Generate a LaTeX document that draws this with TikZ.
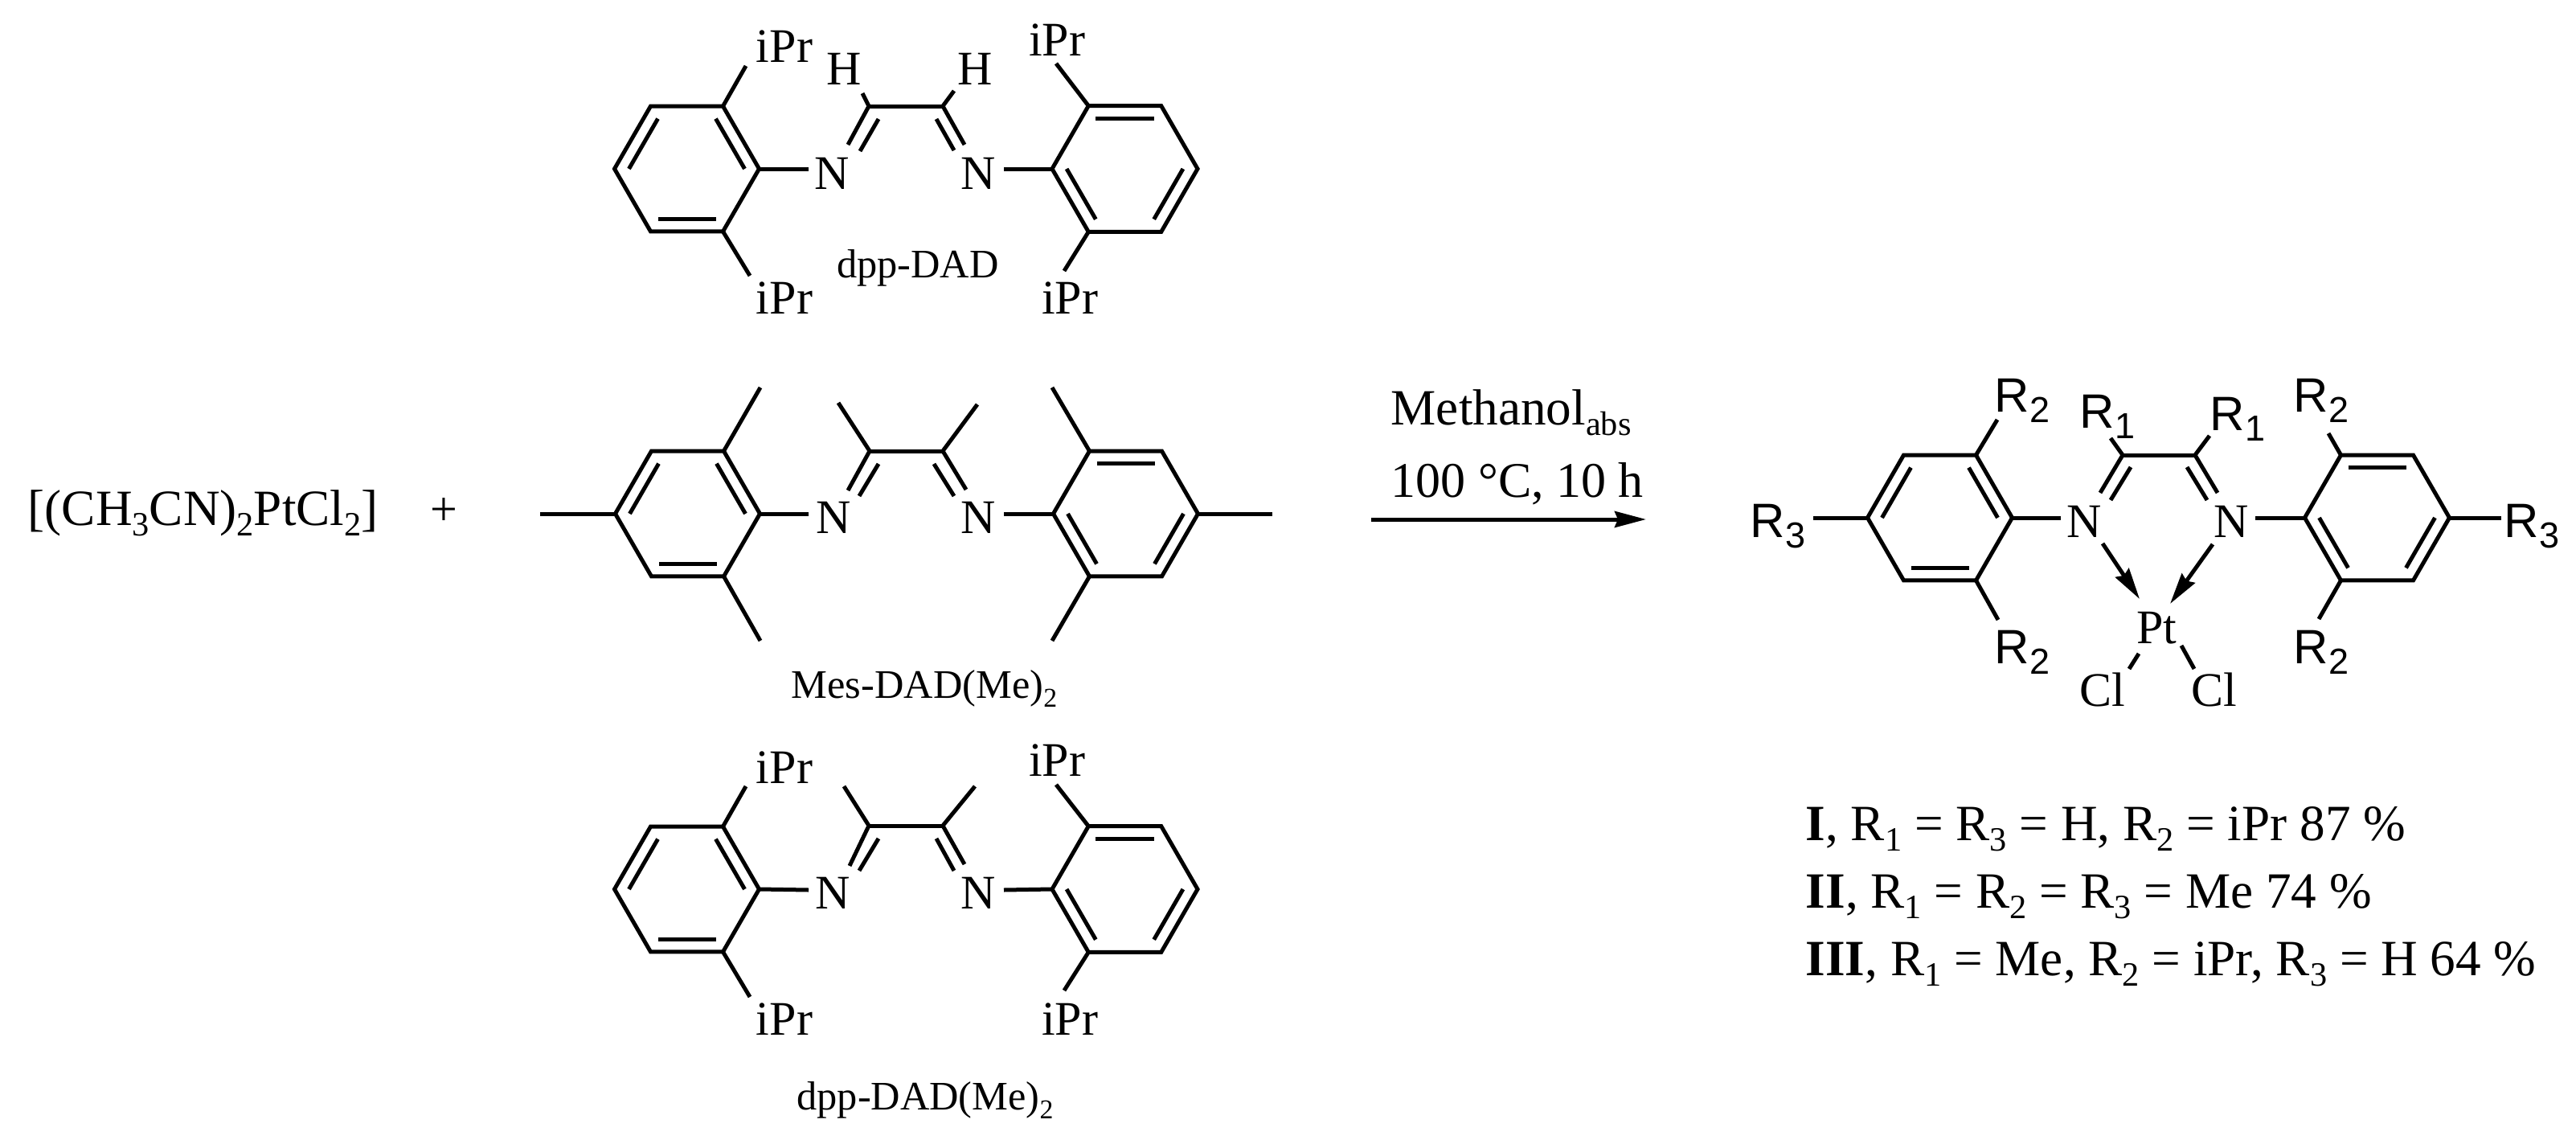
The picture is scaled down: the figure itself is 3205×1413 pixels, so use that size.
\documentclass[tikz,border=0pt]{standalone}
\usepackage{fontspec}
\setmainfont{Liberation Serif}
\newfontfamily\sansfont{Liberation Sans}
\usetikzlibrary{arrows.meta,calc,positioning}
\newcommand{\sbs}[1]{\raisebox{-0.22em}{\scalebox{0.67}{#1}}}
\newcommand{\rsb}[1]{\raisebox{-0.22em}{\scalebox{0.75}{#1}}}
\newcommand{\arene}[5]{
    \foreach \v/\ang in {a/0,b/60,c/120,d/180,e/240,f/300}{
        \coordinate (#1\v) at ($(#2,#3)+(\ang:#4)$);
        \coordinate (#1\v i) at ($(#2,#3)+(\ang:0.8*#4)$);
    }
    \draw[bond] (#1a) -- (#1b) -- (#1c) -- (#1d) -- (#1e) -- (#1f) -- cycle;
    \foreach \p/\q in {#5} \draw[bond] (#1\p i) -- (#1\q i);
}
\tikzset{
    bond/.style={line width=1.25pt, line join=miter},
    tipped/.style={line width=1.25pt, -{Stealth[length=9.75pt, width=5pt, inset=1pt]}},
    atom/.style={font=\fontsize{15}{18}\selectfont, inner sep=0pt, anchor=base},
    rlabel/.style={font=\sansfont\fontsize{15}{18}\selectfont, inner sep=0pt, anchor=base west},
    caption/.style={font=\fontsize{12.6}{15}\selectfont, inner sep=0pt, anchor=base},
    textline/.style={font=\fontsize{15.8}{18}\selectfont, inner sep=0pt, anchor=base west},
}
\begin{document}
\begin{tikzpicture}[x=0.25pt, y=-0.25pt]
    \useasboundingbox (0,0) rectangle (3205,1413);
    % dpp-DAD
    \arene{al}{854.5}{210}{90}{d/e,f/a,b/c}
    \arene{ar}{1399.5}{210}{90.5}{e/f,a/b,c/d}
    \foreach \n/\x/\y in {ac1/1081/132, ac2/1173/132, an1/1055/180, an2/1200/180, ai1/1093/148, ai2/1165/148,
        aj1/1070/188, aj2/1187/187, ah1/1073/116, ah2/1187/113, ab1/1006/210, ab2/1249/210,
        as1/928/82, as2/933/343, as3/1314/79, as4/1324/337}
        \coordinate (\n) at (\x,\y);
    \foreach \p/\q in {ac1/ac2, ac1/an1, ac2/an2, ai1/aj1, ai2/aj2, ac1/ah1, ac2/ah2, ala/ab1, ard/ab2,
        alf/as1, alb/as2, are/as3, arc/as4}
        \draw[bond] (\p) -- (\q);
    \node[atom] (aN1) at (1035,235) {N};
    \node[atom] (aN2) at (1217,235) {N};
    \node[atom] (aH1) at (1050,106) {H};
    \node[atom] (aH2) at (1213,106) {H};
    \node[atom] (aP1) at (976,78) {iPr};
    \node[atom] (aP2) at (1315,69) {iPr};
    \node[atom] (aP3) at (976,390) {iPr};
    \node[atom] (aP4) at (1331,390) {iPr};
    \node[caption] (acap) at (1142,345) {dpp-DAD};
    % Mes-DAD(Me)2
    \arene{bl}{855.5}{639}{90}{d/e,f/a,b/c}
    \arene{br}{1400.5}{639}{90}{e/f,a/b,c/d}
    \foreach \n/\x/\y in {bc1/1082/561, bc2/1173/561, bn1/1055/610, bn2/1202/609, bi1/1093/577, bi2/1162/577,
        bj1/1069/617, bj2/1187/617, bh1/1043/501, bh2/1216/503, bb1/1006/639, bb2/1249/639,
        bs1/946/482, bs2/946/797, bs3/1309/482, bs4/1309/797, bm1/672/639, bm2/1583/639}
        \coordinate (\n) at (\x,\y);
    \foreach \p/\q in {bc1/bc2, bc1/bn1, bc2/bn2, bi1/bj1, bi2/bj2, bc1/bh1, bc2/bh2, bla/bb1, brd/bb2,
        blf/bs1, blb/bs2, bre/bs3, brc/bs4, bld/bm1, bra/bm2}
        \draw[bond] (\p) -- (\q);
    \node[atom] (bN1) at (1037,663) {N};
    \node[atom] (bN2) at (1217,663) {N};
    \node[caption] (bcap) at (1150,868) {Mes-DAD(Me)\sbs{2}};
    % dpp-DAD(Me)2
    \arene{cl}{854.5}{1106}{90}{d/e,f/a,b/c}
    \arene{cr}{1399.5}{1106}{90.5}{e/f,a/b,c/d}
    \foreach \n/\x/\y in {cc1/1081/1027, cc2/1173/1027, cn1/1057/1077, cn2/1200/1075, ci1/1093/1043, ci2/1165/1043,
        cj1/1069/1083, cj2/1187/1083, ch1/1050/978, ch2/1213/978, cb1/1006/1107, cb2/1249/1107,
        cs1/928/978, cs2/933/1240, cs3/1314/976, cs4/1324/1232}
        \coordinate (\n) at (\x,\y);
    \foreach \p/\q in {cc1/cc2, cc1/cn1, cc2/cn2, ci1/cj1, ci2/cj2, cc1/ch1, cc2/ch2, cla/cb1, crd/cb2,
        clf/cs1, clb/cs2, cre/cs3, crc/cs4}
        \draw[bond] (\p) -- (\q);
    \node[atom] (cN1) at (1036,1130) {N};
    \node[atom] (cN2) at (1217,1130) {N};
    \node[atom] (cP1) at (976,974) {iPr};
    \node[atom] (cP2) at (1315,965) {iPr};
    \node[atom] (cP3) at (976,1287) {iPr};
    \node[atom] (cP4) at (1331,1287) {iPr};
    \node[caption] (ccap) at (1151,1380) {dpp-DAD(Me)\sbs{2}};
    % product
    \arene{dl}{2413.5}{644}{90}{d/e,f/a,b/c}
    \arene{dr}{2957.5}{644}{90}{e/f,a/b,c/d}
    \foreach \n/\x/\y in {dc1/2641/566, dc2/2731/566, dn1/2613/613, dn2/2759/613, di1/2651/581, di2/2721/581,
        dj1/2626/622, dj2/2746/622, dh1/2626/545, dh2/2749/542, db1/2564/644, db2/2806/644,
        ds1/2485/522, ds2/2486/771, ds3/2897/539, ds4/2885/770, dm1/2256/644, dm2/3112/644,
        da1/2616/676, da2/2662/745, da3/2753/677, da4/2700/751,
        dk1/2661/813, dk2/2649/832, dk3/2714/803, dk4/2730/832}
        \coordinate (\n) at (\x,\y);
    \foreach \p/\q in {dc1/dc2, dc1/dn1, dc2/dn2, di1/dj1, di2/dj2, dc1/dh1, dc2/dh2, dla/db1, drd/db2,
        dlf/ds1, dlb/ds2, dre/ds3, drc/ds4, dld/dm1, dra/dm2, dk1/dk2, dk3/dk4}
        \draw[bond] (\p) -- (\q);
    \draw[tipped] (da1) -- (da2);
    \draw[tipped] (da3) -- (da4);
    \node[atom] (dN1) at (2593,668) {N};
    \node[atom] (dN2) at (2776,668) {N};
    \node[atom] (dPt) at (2683,800) {Pt};
    \node[atom] (dCl1) at (2616,878) {Cl};
    \node[atom] (dCl2) at (2755,878) {Cl};
    \node[rlabel] (dR1) at (2481,512) {R\rsb{2}};
    \node[rlabel] (dR2) at (2853,512) {R\rsb{2}};
    \node[rlabel] (dR3) at (2481,825) {R\rsb{2}};
    \node[rlabel] (dR4) at (2853,825) {R\rsb{2}};
    \node[rlabel] (dR5) at (2587,532) {R\rsb{1}};
    \node[rlabel] (dR6) at (2749,535) {R\rsb{1}};
    \node[rlabel] (dR7) at (2177,668) {R\rsb{3}};
    \node[rlabel] (dR8) at (3115,668) {R\rsb{3}};
    % reaction line
    \node[textline] (salt) at (34,653) {[(CH\sbs{3}CN)\sbs{2}PtCl\sbs{2}]};
    \node[atom] (plus) at (552,653) {+};
    \node[textline] (solv) at (1730,528) {Methanol\sbs{abs}};
    \node[textline, font=\fontsize{15.5}{18}\selectfont] (cond) at (1730,618) {100 °C, 10 h};
    \coordinate (arr1) at (1706,646);
    \coordinate (arr2) at (2048,646);
    \draw[tipped] (arr1) -- (arr2);
    \node[textline] (yI) at (2246,1045) {\textbf{I}, R\sbs{1} = R\sbs{3} = H, R\sbs{2} = iPr 87 \%};
    \node[textline] (yII) at (2246,1129) {\textbf{II}, R\sbs{1} = R\sbs{2} = R\sbs{3} = Me 74 \%};
    \node[textline] (yIII) at (2246,1213) {\textbf{III}, R\sbs{1} = Me, R\sbs{2} = iPr, R\sbs{3} = H 64 \%};
\end{tikzpicture}
\end{document}
